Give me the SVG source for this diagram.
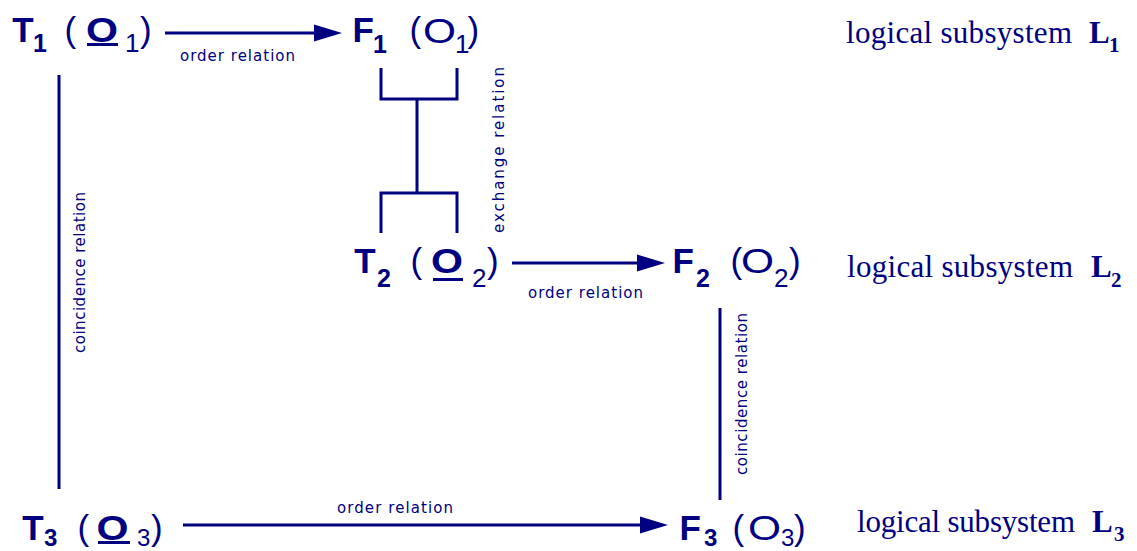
<svg xmlns="http://www.w3.org/2000/svg" width="1137" height="551" viewBox="0 0 1137 551">
<defs>
<style>
.b{font-family:"Liberation Sans",Arial,sans-serif;font-weight:bold;font-size:35px;fill:#000080}
.r{font-family:"Liberation Sans",Arial,sans-serif;font-size:35px;fill:#000080}
.sb{font-family:"Liberation Sans",Arial,sans-serif;font-weight:bold;font-size:25px;fill:#000080}
.sr{font-family:"Liberation Sans",Arial,sans-serif;font-size:26px;fill:#000080}
.lab{font-family:"DejaVu Sans",Verdana,sans-serif;font-size:15px;fill:#000080}
.ls{font-family:"Liberation Serif","Times New Roman",serif;font-size:31px;fill:#000080}
.lsb{font-family:"Liberation Serif","Times New Roman",serif;font-weight:bold;font-size:31px;fill:#000080}
.lss{font-family:"Liberation Serif","Times New Roman",serif;font-weight:bold;font-size:21px;fill:#000080}
.ln{stroke:#000080;stroke-width:3;fill:none}
.ah{fill:#000080}
.ul{fill:#000080}
</style>
</defs>
<g id="connectors">
<line class="ln" x1="165" y1="33" x2="316" y2="33"/>
<polygon class="ah" points="314,24.5 342,33 314,41.5"/>
<line class="ln" x1="512" y1="263" x2="640" y2="263"/>
<polygon class="ah" points="637,254.5 665,263 637,271.5"/>
<line class="ln" x1="183" y1="525" x2="642" y2="525"/>
<polygon class="ah" points="640,516.5 668,525 640,533.5"/>
<line class="ln" x1="59" y1="75" x2="59" y2="489"/>
<line class="ln" x1="720" y1="308" x2="720" y2="500"/>
<path class="ln" d="M381,68 V99 H457 V68 M417,99 V193 M381,233 V193 H457 V233"/>
<text class="lab" x="180" y="61" textLength="115">order relation</text>
<text class="lab" x="528" y="298" textLength="115">order relation</text>
<text class="lab" x="337" y="513" textLength="116">order relation</text>
<text class="lab" transform="translate(85,353) rotate(-90)" textLength="161">coincidence relation</text>
<text class="lab" transform="translate(747,475) rotate(-90)" textLength="162">coincidence relation</text>
<text class="lab" transform="translate(504,233) rotate(-90)" textLength="166">exchange relation</text>
</g>
<g id="T1">
<text class="b" x="12.3" y="42">T</text>
<text class="sb" x="33" y="52">1</text>
<text class="r" x="64.5" y="42">(</text>
<text class="b" x="86" y="42" textLength="32" lengthAdjust="spacingAndGlyphs">O</text>
<rect class="ul" x="87" y="43" width="31" height="3"/>
<text class="sr" x="125" y="52">1</text>
<text class="r" x="140" y="42">)</text>
</g>
<g id="F1">
<text class="b" x="352.5" y="42">F</text>
<text class="sb" x="373" y="53">1</text>
<text class="r" x="409.5" y="42">(</text>
<text class="r" x="423" y="43" textLength="33" lengthAdjust="spacingAndGlyphs">O</text>
<text class="sr" x="455" y="53">1</text>
<text class="r" x="467.5" y="42">)</text>
</g>
<g id="L1">
<text class="ls" x="846" y="43" textLength="226">logical subsystem</text>
<text class="lsb" x="1089" y="43">L</text>
<text class="lss" x="1109" y="52">1</text>
</g>
<g id="T2">
<text class="b" x="354.3" y="273">T</text>
<text class="sb" x="377" y="287">2</text>
<text class="r" x="410.5" y="273">(</text>
<text class="b" x="431" y="273" textLength="32" lengthAdjust="spacingAndGlyphs">O</text>
<rect class="ul" x="433" y="278" width="30" height="3"/>
<text class="sr" x="472" y="287">2</text>
<text class="r" x="487" y="273">)</text>
</g>
<g id="F2">
<text class="b" x="672.5" y="273">F</text>
<text class="sb" x="696" y="287">2</text>
<text class="r" x="730.5" y="273">(</text>
<text class="r" x="741" y="273" textLength="33" lengthAdjust="spacingAndGlyphs">O</text>
<text class="sr" x="774" y="287">2</text>
<text class="r" x="789" y="273">)</text>
</g>
<g id="L2">
<text class="ls" x="847" y="277" textLength="226">logical subsystem</text>
<text class="lsb" x="1091" y="277">L</text>
<text class="lss" x="1111" y="287">2</text>
</g>
<g id="T3">
<text class="b" x="22.3" y="540">T</text>
<text class="sb" x="44" y="546" style="font-size:24px">3</text>
<text class="r" x="77.5" y="540">(</text>
<text class="b" x="96.6" y="540" textLength="32" lengthAdjust="spacingAndGlyphs">O</text>
<rect class="ul" x="98" y="541" width="32" height="3"/>
<text class="sr" x="137" y="546" style="font-size:24px">3</text>
<text class="r" x="151" y="540">)</text>
</g>
<g id="F3">
<text class="b" x="679.5" y="540">F</text>
<text class="sb" x="704" y="546" style="font-size:24px">3</text>
<text class="r" x="732.5" y="540">(</text>
<text class="r" x="748" y="540" textLength="33" lengthAdjust="spacingAndGlyphs">O</text>
<text class="sr" x="781" y="546" style="font-size:24px">3</text>
<text class="r" x="794" y="540">)</text>
</g>
<g id="L3">
<text class="ls" x="857" y="532" textLength="218">logical subsystem</text>
<text class="lsb" x="1092" y="532">L</text>
<text class="lss" x="1114" y="541">3</text>
</g>
</svg>
